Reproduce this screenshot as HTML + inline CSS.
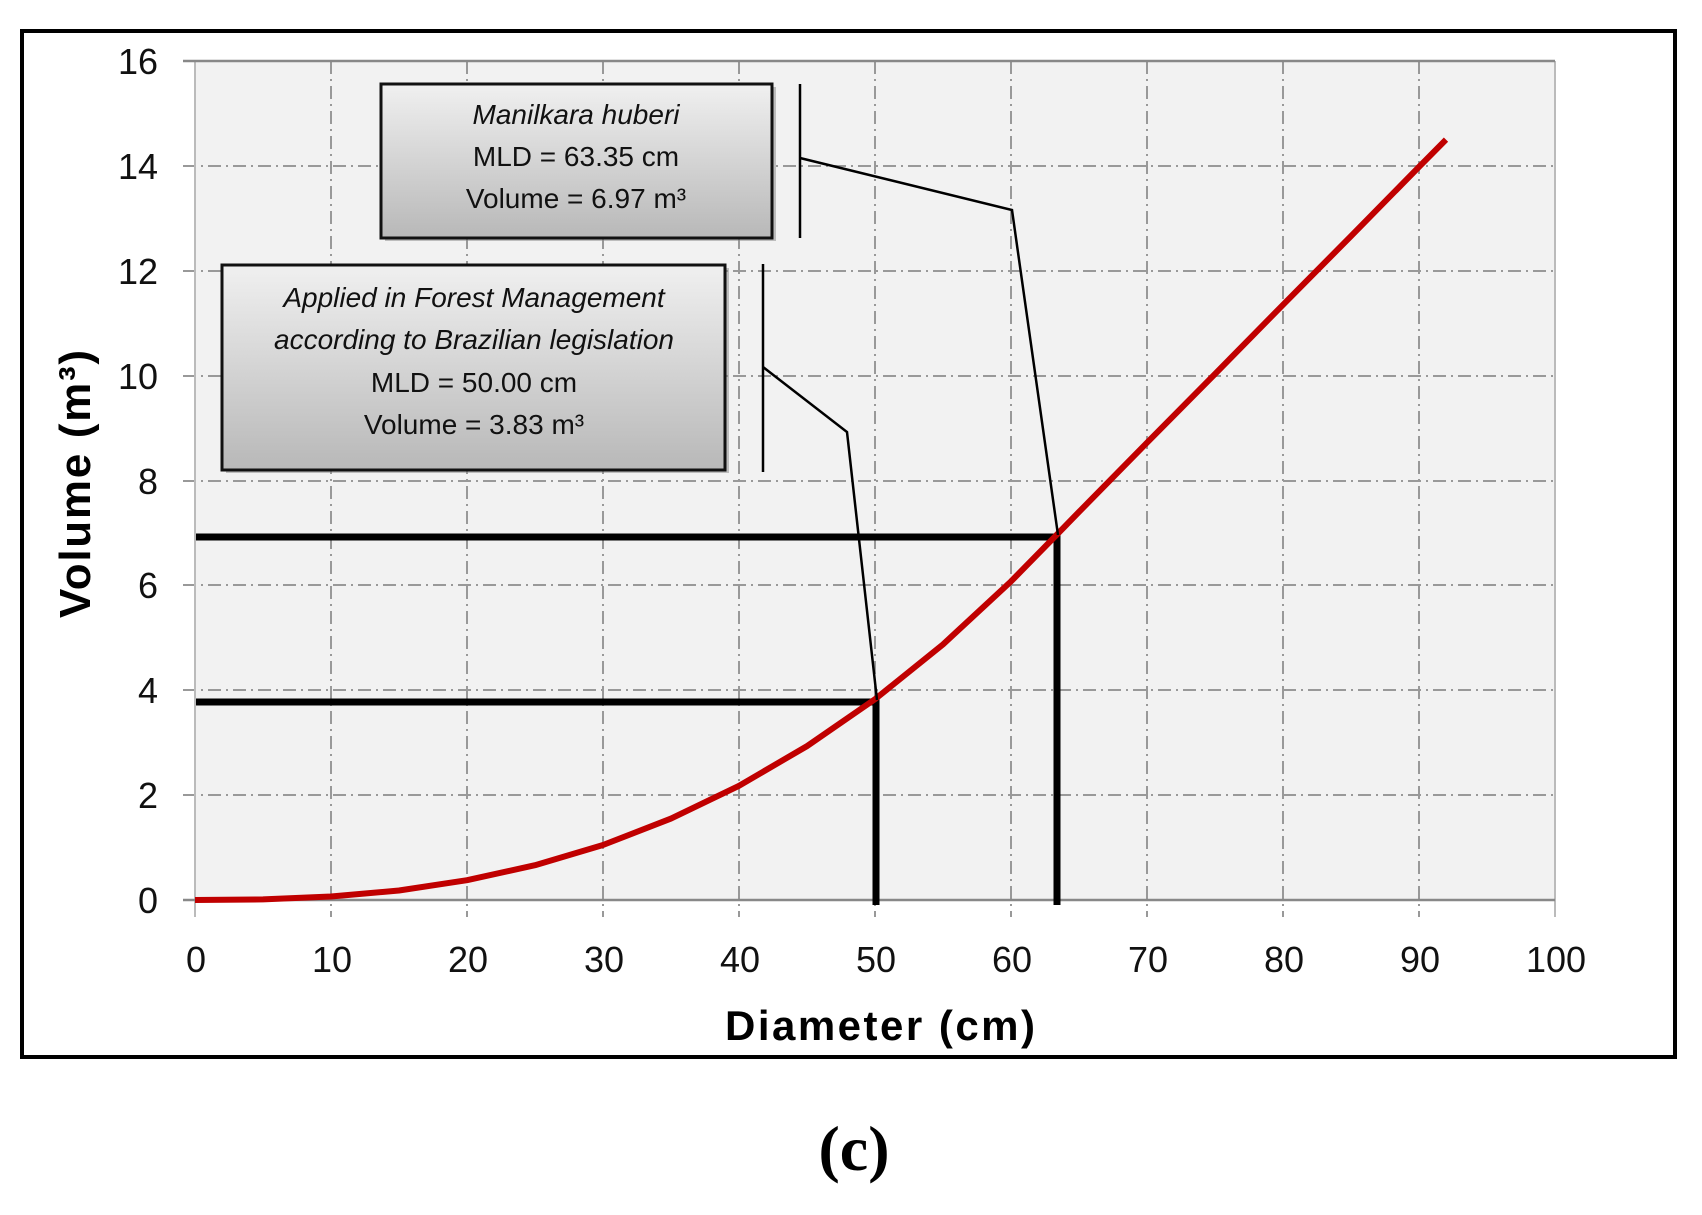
<!DOCTYPE html>
<html><head><meta charset="utf-8"><style>
html,body{margin:0;padding:0;background:#fff;}
svg{display:block;}
text{font-family:"Liberation Sans",sans-serif;}
</style></head><body>
<svg width="1702" height="1215" viewBox="0 0 1702 1215" xmlns="http://www.w3.org/2000/svg">
<defs>
<linearGradient id="g" x1="0" y1="0" x2="0" y2="1">
<stop offset="0" stop-color="#f0f0f0"/><stop offset="1" stop-color="#b8b8b8"/>
</linearGradient>
</defs>
<rect x="22" y="31" width="1653" height="1026" fill="#fff" stroke="#000" stroke-width="4"/>
<rect x="195" y="61" width="1360" height="839" fill="#f2f2f2"/>
<g stroke="#999" stroke-width="2" stroke-dasharray="13,5,2,5" fill="none">
<line x1="331" y1="61" x2="331" y2="917"/><line x1="467" y1="61" x2="467" y2="917"/>
<line x1="603" y1="61" x2="603" y2="917"/><line x1="739" y1="61" x2="739" y2="917"/>
<line x1="875" y1="61" x2="875" y2="917"/><line x1="1011" y1="61" x2="1011" y2="917"/>
<line x1="1147" y1="61" x2="1147" y2="917"/><line x1="1283" y1="61" x2="1283" y2="917"/>
<line x1="1419" y1="61" x2="1419" y2="917"/>
<line x1="183" y1="166" x2="1555" y2="166"/><line x1="183" y1="271" x2="1555" y2="271"/>
<line x1="183" y1="376" x2="1555" y2="376"/><line x1="183" y1="481" x2="1555" y2="481"/>
<line x1="183" y1="585" x2="1555" y2="585"/><line x1="183" y1="690" x2="1555" y2="690"/>
<line x1="183" y1="795" x2="1555" y2="795"/>
</g>
<g stroke="#bbb" stroke-width="2">
<line x1="195" y1="61" x2="195" y2="917"/><line x1="1555" y1="61" x2="1555" y2="917"/>
</g>
<g stroke="#888" stroke-width="2.5">
<line x1="183" y1="61" x2="1555" y2="61"/><line x1="183" y1="900" x2="1555" y2="900"/>
</g>
<g font-size="36" fill="#111" text-anchor="end">
<text x="158" y="74">16</text><text x="158" y="179">14</text><text x="158" y="284">12</text>
<text x="158" y="389">10</text><text x="158" y="494">8</text><text x="158" y="598">6</text>
<text x="158" y="703">4</text><text x="158" y="808">2</text><text x="158" y="913">0</text>
</g>
<g font-size="36" fill="#111" text-anchor="middle">
<text x="196" y="972">0</text><text x="332" y="972">10</text><text x="468" y="972">20</text>
<text x="604" y="972">30</text><text x="740" y="972">40</text><text x="876" y="972">50</text>
<text x="1012" y="972">60</text><text x="1148" y="972">70</text><text x="1284" y="972">80</text>
<text x="1420" y="972">90</text><text x="1556" y="972">100</text>
</g>
<text x="880" y="1040" font-size="42" font-weight="bold" text-anchor="middle" textLength="310">Diameter (cm)</text>
<text transform="translate(90,484) rotate(-90)" font-size="44" font-weight="bold" text-anchor="middle" textLength="268">Volume (m³)</text>
<g stroke="#000" stroke-width="7" fill="none">
<polyline points="196,537 1057,537 1057,905"/>
<polyline points="196,702 876,702 876,905"/>
</g>
<polyline fill="none" stroke="#c00000" stroke-width="6" stroke-linejoin="round" points="195,900 263,899.4 331,896.5 399,890.5 467,880.2 535,865.2 603,845 671,818.6 739,785.8 807,746.1 875,699.2 943,644.4 1011,581.4 1057,534.5 1079,511.9 1147,442.7 1215,374 1283,304.8 1351,236.1 1419,166.9 1446,139.6"/>
<g stroke="#000" stroke-width="2.5" fill="none">
<line x1="800" y1="84" x2="800" y2="238"/>
<polyline points="800,158 1012,210 1058,535"/>
<line x1="763" y1="264" x2="763" y2="472"/>
<polyline points="763,367 847,432 877,700"/>
</g>
<rect x="385" y="87" width="391" height="154" fill="#888" opacity="0.5"/>
<rect x="381" y="84" width="391" height="154" fill="url(#g)" stroke="#111" stroke-width="3"/>
<g font-size="28" fill="#111" text-anchor="middle">
<text x="576" y="124" font-style="italic">Manilkara huberi</text>
<text x="576" y="166">MLD = 63.35 cm</text>
<text x="576" y="208">Volume =  6.97 m³</text>
</g>
<rect x="226" y="268" width="503" height="205" fill="#888" opacity="0.5"/>
<rect x="222" y="265" width="503" height="205" fill="url(#g)" stroke="#111" stroke-width="3"/>
<g font-size="28" fill="#111" text-anchor="middle">
<text x="474" y="307" font-style="italic">Applied in Forest Management</text>
<text x="474" y="349" font-style="italic">according to Brazilian legislation</text>
<text x="474" y="392">MLD = 50.00 cm</text>
<text x="474" y="434">Volume =  3.83 m³</text>
</g>
<text x="854" y="1170" font-size="64" font-weight="bold" text-anchor="middle" style="font-family:'Liberation Serif',serif">(c)</text>
</svg>
</body></html>
